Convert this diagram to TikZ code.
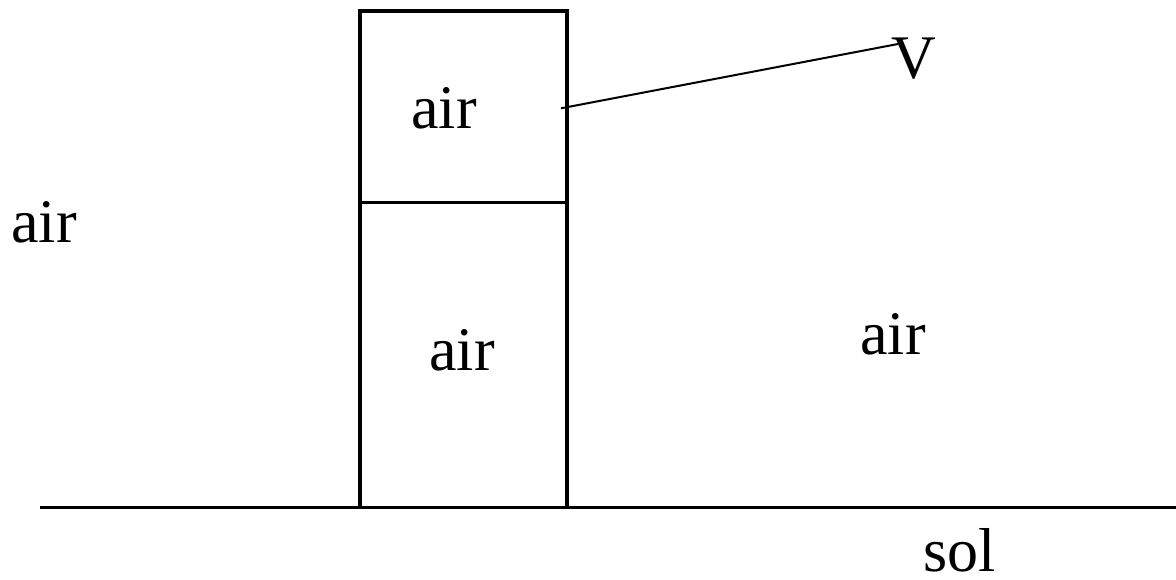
\documentclass[tikz,border=0pt]{standalone}
\usepackage{fontspec}
\setmainfont{Liberation Serif}
\begin{document}
\begin{tikzpicture}[x=1pt,y=-1pt,
  lbl/.style={anchor=base,inner sep=0pt,text depth=0pt,font=\fontsize{62}{62}\selectfont},
  thick line/.style={line width=3.2pt},
  thin line/.style={line width=2pt}]
\useasboundingbox (0,0) rectangle (1176,580);
% box
\draw[thick line] (360,507) -- (360,11) -- (567,11) -- (567,507);
\draw[thick line] (360,202.5) -- (567,202.5);
% ground
\draw[thick line] (40,507.3) -- (1176,507.3);
% labels
\node[lbl] (airL) at (44,243) {air};
\node[lbl] (airT) at (444,129) {air};
\node[lbl] (airB) at (462,370) {air};
\node[lbl] (airR) at (893,354) {air};
\node[lbl] (sol) at (960,571) {sol};
\node[lbl] (V) at (914,79) {V};
% connector
\coordinate (p) at (561,108.3);
\coordinate (q) at (898,44);
\draw[thin line] (p) -- (q);
\end{tikzpicture}
\end{document}
